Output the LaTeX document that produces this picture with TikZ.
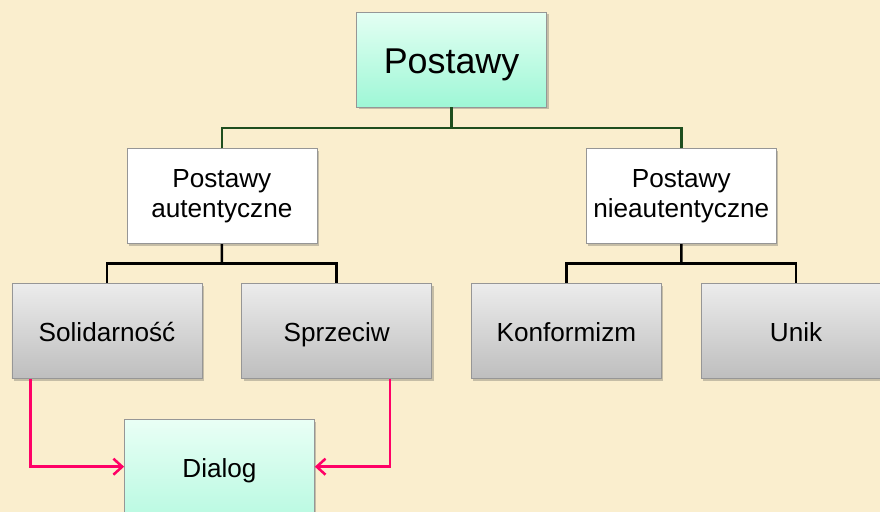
\documentclass[tikz,border=0pt]{standalone}
\usepackage{fontspec}
\setmainfont{Liberation Sans}
\usepackage{tikz}
\usetikzlibrary{arrows.meta,positioning,calc,shadows}
\definecolor{parchment}{RGB}{250,238,206}
\definecolor{treegreen}{RGB}{30,78,30}
\definecolor{linkpink}{RGB}{255,0,102}
\definecolor{mintlight}{RGB}{228,255,243}
\definecolor{mintdark}{RGB}{158,247,214}
\definecolor{greylight}{RGB}{236,236,236}
\definecolor{greydark}{RGB}{190,190,190}
\definecolor{edgegrey}{RGB}{150,150,150}
\tikzset{
  orgbox/.style={
    draw=edgegrey,line width=0.5pt,align=center,minimum width=47.5mm,
    minimum height=23.75mm,inner sep=0pt,
    font=\fontsize{18.6}{21.5}\selectfont,
    drop shadow={shadow xshift=0.5mm,shadow yshift=-0.6mm,opacity=0.3,fill=black!70}
  },
  oneline/.style={text height=18pt,text depth=2.4pt},
  rootbox/.style={orgbox,top color=mintlight,bottom color=mintdark,
    font=\fontsize{25.5}{28}\selectfont,text height=23pt,text depth=3.8pt},
  whitebox/.style={orgbox,fill=white},
  greybox/.style={orgbox,oneline,top color=greylight,bottom color=greydark},
  dialogbox/.style={orgbox,oneline,top color=mintlight!80!white,
    bottom color=mintdark!70!white},
  greenline/.style={draw=treegreen,line width=1.8pt},
  blackline/.style={draw=black,line width=1.8pt},
  pinkarrow/.style={draw=linkpink,line width=1.8pt,
    -{Straight Barb[length=2.2mm,width=4mm]}}
}
\begin{document}
\begin{tikzpicture}[node distance=10mm and 9.75mm]
  \fill[parchment] (-26.75mm,-45.25mm) rectangle (193.25mm,82.75mm);
  \useasboundingbox (-26.75mm,-45.25mm) rectangle (193.25mm,82.75mm);
  % bottom row
  \node[greybox] (sol) at (0,0) {Solidarność};
  \node[greybox,right=of sol] (spr) {Sprzeciw};
  \node[greybox,right=of spr] (konf) {Konformizm};
  \node[greybox,right=of konf] (unik) {Unik};
  % middle row and root
  \node[whitebox,above=9.75mm of $(sol.north)!0.5!(spr.north)$] (aut)
    {Postawy\\autentyczne};
  \node[whitebox,above=9.75mm of $(konf.north)!0.5!(unik.north)$] (nieaut)
    {Postawy\\nieautentyczne};
  \node[rootbox,above=10.25mm of $(aut.north)!0.5!(nieaut.north)$] (root) {Postawy};
  \node[dialogbox,below=10mm of $(sol.south)!0.5!(spr.south)$,xshift=-0.6mm] (dia) {Dialog};
  % tree lines
  \coordinate (jroot) at ($(root.south)!0.5!(root.south|-aut.north)$);
  \draw[greenline] (root.south)--(jroot);
  \draw[greenline] (aut.north)|-(jroot)-|(nieaut.north);
  \coordinate (jaut) at ($(aut.south)!0.5!(aut.south|-sol.north)$);
  \draw[blackline] (aut.south)--(jaut);
  \draw[blackline] (sol.north)|-(jaut)-|(spr.north);
  \coordinate (jnie) at ($(nieaut.south)!0.5!(nieaut.south|-konf.north)$);
  \draw[blackline] (nieaut.south)--(jnie);
  \draw[blackline] (konf.north)|-(jnie)-|(unik.north);
  % links to Dialog
  \draw[pinkarrow] ($(sol.south west)!0.1!(sol.south east)$) |- (dia.west);
  \draw[pinkarrow] ($(spr.south west)!0.78!(spr.south east)$) |- (dia.east);
\end{tikzpicture}
\end{document}
